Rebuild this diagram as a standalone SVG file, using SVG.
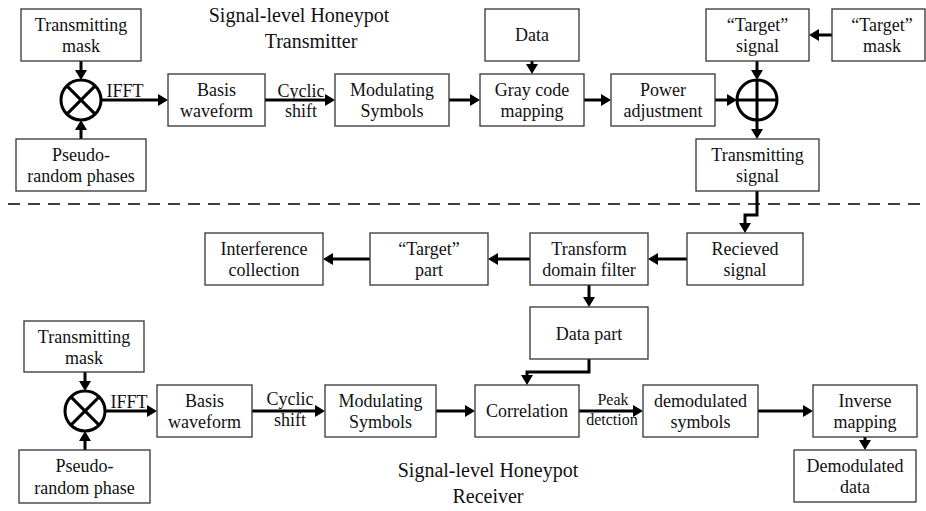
<svg xmlns="http://www.w3.org/2000/svg" width="926" height="511" viewBox="0 0 926 511">
<style>
  .box { fill: #fff; stroke: #333; stroke-width: 1.3; }
  .t { font-family: "Liberation Serif", "Times New Roman", serif; font-size: 18px; fill: #111; text-anchor: middle; }
  .title { font-family: "Liberation Serif", "Times New Roman", serif; font-size: 20px; fill: #111; text-anchor: middle; }
  .small { font-size: 16px; }
  .conn { fill: none; stroke: #000; stroke-width: 3; marker-end: url(#ah); }
  .op { fill: #fff; stroke: #000; stroke-width: 3; }
  .opl { stroke: #000; stroke-width: 3; }
  .dash { stroke: #000; stroke-width: 1.5; stroke-dasharray: 12 8; }
</style>
<defs>
  <marker id="ah" viewBox="0 0 10 12" refX="2" refY="6" markerWidth="10" markerHeight="12" markerUnits="userSpaceOnUse" orient="auto">
    <path d="M0,0 L10,6 L0,12 Z" fill="#000"/>
  </marker>
</defs>
<rect width="926" height="511" fill="#fff"/>

<text class="title" x="299" y="22">Signal-level Honeypot</text>
<text class="title" x="311" y="48">Transmitter</text>
<text class="title" x="488" y="477">Signal-level Honeypot</text>
<text class="title" x="488" y="503">Receiver</text>

<line class="dash" x1="8" y1="204" x2="926" y2="204"/>

<g id="connectors">
  <path class="conn" d="M81,61 V72"/>
  <path class="conn" d="M81,139 V128"/>
  <path class="conn" d="M101,100 H160"/>
  <path class="conn" d="M265,100 H327"/>
  <path class="conn" d="M449,100 H472"/>
  <path class="conn" d="M532,61 V66"/>
  <path class="conn" d="M584,100 H603"/>
  <path class="conn" d="M715,100 H729"/>
  <path class="conn" d="M832,35 H817"/>
  <path class="conn" d="M757,61 V72"/>
  <path class="conn" d="M757,120 V131"/>
  <path class="conn" d="M757,191 V215 H745 V225"/>
  <path class="conn" d="M687,259 H656"/>
  <path class="conn" d="M530,259 H496"/>
  <path class="conn" d="M370,259 H331"/>
  <path class="conn" d="M589,285 V299"/>
  <path class="conn" d="M589,359 V372 H527 V377"/>
  <path class="conn" d="M85,372 V383"/>
  <path class="conn" d="M85,450 V439"/>
  <path class="conn" d="M105,411 H149"/>
  <path class="conn" d="M252,411 H317"/>
  <path class="conn" d="M436,411 H467"/>
  <path class="conn" d="M579,411 H635"/>
  <path class="conn" d="M758,411 H805"/>
  <path class="conn" d="M865,437 V442"/>
  <text class="t" x="125" y="97">IFFT</text>
  <text class="t" x="301" y="97">Cyclic</text>
  <text class="t" x="301" y="117">shift</text>
  <text class="t" x="129" y="408">IFFT</text>
  <text class="t" x="290" y="405">Cyclic</text>
  <text class="t" x="290" y="426">shift</text>
  <text class="t small" x="613" y="405">Peak</text>
  <text class="t small" x="612" y="425">detction</text>
</g>

<g id="op-mult-tx">
  <circle class="op" cx="81" cy="100" r="20"/>
  <line class="opl" x1="66.9" y1="85.9" x2="95.1" y2="114.1"/>
  <line class="opl" x1="95.1" y1="85.9" x2="66.9" y2="114.1"/>
</g>
<g id="op-add-tx">
  <circle class="op" cx="757" cy="100" r="20"/>
  <line class="opl" x1="737" y1="100" x2="777" y2="100"/>
  <line class="opl" x1="757" y1="80" x2="757" y2="120"/>
</g>
<g id="op-mult-rx">
  <circle class="op" cx="85" cy="411" r="20"/>
  <line class="opl" x1="70.9" y1="396.9" x2="99.1" y2="425.1"/>
  <line class="opl" x1="99.1" y1="396.9" x2="70.9" y2="425.1"/>
</g>

<g id="tx-mask"><rect class="box" x="21" y="9" width="120" height="52"/><text class="t" x="81" y="31">Transmitting</text><text class="t" x="81" y="52">mask</text></g>
<g id="tx-pseudo"><rect class="box" x="16" y="139" width="130" height="52"/><text class="t" x="81" y="161">Pseudo-</text><text class="t" x="81" y="182">random phases</text></g>
<g id="tx-basis"><rect class="box" x="168" y="74" width="97" height="52"/><text class="t" x="216.5" y="96">Basis</text><text class="t" x="216.5" y="117">waveform</text></g>
<g id="tx-mod"><rect class="box" x="335" y="74" width="114" height="52"/><text class="t" x="392" y="96">Modulating</text><text class="t" x="392" y="117">Symbols</text></g>
<g id="tx-gray"><rect class="box" x="480" y="74" width="104" height="52"/><text class="t" x="532" y="96">Gray code</text><text class="t" x="532" y="117">mapping</text></g>
<g id="tx-data"><rect class="box" x="485" y="9" width="94" height="52"/><text class="t" x="532" y="41">Data</text></g>
<g id="tx-power"><rect class="box" x="611" y="74" width="104" height="52"/><text class="t" x="663" y="96">Power</text><text class="t" x="663" y="117">adjustment</text></g>
<g id="tx-target-signal"><rect class="box" x="706" y="9" width="103" height="52"/><text class="t" x="757.5" y="31">“Target”</text><text class="t" x="757.5" y="52">signal</text></g>
<g id="tx-target-mask"><rect class="box" x="832" y="9" width="93" height="52"/><text class="t" x="882" y="31">“Target”</text><text class="t" x="882" y="52">mask</text></g>
<g id="tx-signal"><rect class="box" x="696" y="139" width="123" height="52"/><text class="t" x="757.5" y="161">Transmitting</text><text class="t" x="757.5" y="182">signal</text></g>

<g id="rx-received"><rect class="box" x="687" y="233" width="116" height="52"/><text class="t" x="745" y="255">Recieved</text><text class="t" x="745" y="276">signal</text></g>
<g id="rx-filter"><rect class="box" x="530" y="233" width="118" height="52"/><text class="t" x="589" y="255">Transform</text><text class="t" x="589" y="276">domain filter</text></g>
<g id="rx-target-part"><rect class="box" x="370" y="233" width="118" height="52"/><text class="t" x="429" y="255">“Target”</text><text class="t" x="429" y="276">part</text></g>
<g id="rx-interference"><rect class="box" x="205" y="233" width="118" height="52"/><text class="t" x="264" y="255">Interference</text><text class="t" x="264" y="276">collection</text></g>
<g id="rx-data-part"><rect class="box" x="530" y="307" width="118" height="52"/><text class="t" x="589" y="340">Data part</text></g>

<g id="rx-mask"><rect class="box" x="24" y="321" width="120" height="51"/><text class="t" x="84" y="343">Transmitting</text><text class="t" x="84" y="364">mask</text></g>
<g id="rx-pseudo"><rect class="box" x="19" y="450" width="131" height="53"/><text class="t" x="84.5" y="472">Pseudo-</text><text class="t" x="84.5" y="494">random phase</text></g>
<g id="rx-basis"><rect class="box" x="157" y="385" width="95" height="52"/><text class="t" x="204.5" y="407">Basis</text><text class="t" x="204.5" y="428">waveform</text></g>
<g id="rx-mod"><rect class="box" x="325" y="385" width="111" height="52"/><text class="t" x="380.5" y="407">Modulating</text><text class="t" x="380.5" y="428">Symbols</text></g>
<g id="rx-corr"><rect class="box" x="475" y="385" width="104" height="52"/><text class="t" x="527" y="417">Correlation</text></g>
<g id="rx-demod-sym"><rect class="box" x="643" y="385" width="115" height="52"/><text class="t" x="700.5" y="407">demodulated</text><text class="t" x="700.5" y="428">symbols</text></g>
<g id="rx-inverse"><rect class="box" x="813" y="385" width="104" height="52"/><text class="t" x="865" y="407">Inverse</text><text class="t" x="865" y="428">mapping</text></g>
<g id="rx-demod-data"><rect class="box" x="794" y="450" width="122" height="52"/><text class="t" x="855" y="472">Demodulated</text><text class="t" x="855" y="493">data</text></g>
</svg>
